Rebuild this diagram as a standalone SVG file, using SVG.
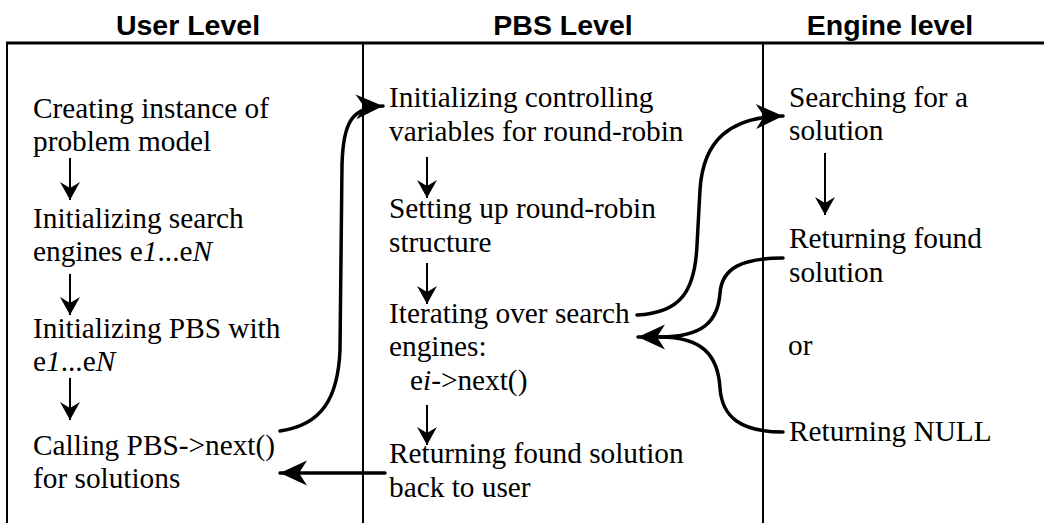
<svg xmlns="http://www.w3.org/2000/svg" width="1044" height="523" viewBox="0 0 1044 523">
  <style>
    .head { font-family: "Liberation Sans", Arial, sans-serif; font-weight: bold; font-size: 28.5px; fill: #000; text-anchor: middle; }
    .lbl { font-family: "Liberation Serif", "DejaVu Serif", serif; font-size: 29.3px; fill: #000; }
    .it { font-style: italic; }
    .rule { stroke: #000; stroke-width: 2; fill: none; }
    .step { stroke: #000; stroke-width: 2; fill: none; marker-end: url(#small); }
    .flow { stroke: #000; stroke-width: 3.5; fill: none; stroke-linecap: round; }
  </style>
  <defs>
    <marker id="small" markerUnits="userSpaceOnUse" viewBox="-20 -11 22 22" refX="0" refY="0" markerWidth="22" markerHeight="22" orient="auto">
      <path d="M0,0 L-18,-10 L-12,0 L-18,10 Z" fill="#000"/>
    </marker>
    <marker id="big" markerUnits="userSpaceOnUse" viewBox="-29 -14 31 28" refX="0" refY="0" markerWidth="31" markerHeight="28" orient="auto">
      <path d="M0,0 L-27,-12.5 L-19,0 L-27,12.5 Z" fill="#000"/>
    </marker>
  </defs>

  <rect width="1044" height="523" fill="#fff"/>

  <!-- column headings -->
  <g id="headings">
    <text class="head" x="188" y="35">User Level</text>
    <text class="head" x="563" y="35">PBS Level</text>
    <text class="head" x="890" y="35">Engine level</text>
  </g>

  <!-- lane frame -->
  <g id="lanes">
    <line x1="6" y1="43" x2="1044" y2="43" stroke="#000" stroke-width="3"/>
    <line class="rule" x1="7" y1="42" x2="7" y2="523"/>
    <line class="rule" x1="363" y1="43" x2="363" y2="523"/>
    <line class="rule" x1="763" y1="43" x2="763" y2="523"/>
  </g>

  <g font-family="Liberation Serif, DejaVu Serif, serif">
  <!-- user level -->
  <g id="create-instance">
    <text class="lbl" x="33" y="118">Creating instance of</text>
    <text class="lbl" x="33" y="151">problem model</text>
  </g>
  <g id="init-engines">
    <text class="lbl" x="33" y="228">Initializing search</text>
    <text class="lbl" x="33" y="261">engines e<tspan class="it">1</tspan>...e<tspan class="it">N</tspan></text>
  </g>
  <g id="init-pbs">
    <text class="lbl" x="33" y="338">Initializing PBS with</text>
    <text class="lbl" x="33" y="371">e<tspan class="it">1</tspan>...e<tspan class="it">N</tspan></text>
  </g>
  <g id="call-next">
    <text class="lbl" x="33" y="455">Calling PBS-&gt;next()</text>
    <text class="lbl" x="33" y="488">for solutions</text>
  </g>

  <!-- PBS level -->
  <g id="init-vars">
    <text class="lbl" x="389" y="107">Initializing controlling</text>
    <text class="lbl" x="389" y="141">variables for round-robin</text>
  </g>
  <g id="setup-rr">
    <text class="lbl" x="389" y="218">Setting up round-robin</text>
    <text class="lbl" x="389" y="252">structure</text>
  </g>
  <g id="iterate">
    <text class="lbl" x="389" y="323">Iterating over search</text>
    <text class="lbl" x="389" y="356">engines:</text>
    <text class="lbl" x="410" y="390">e<tspan class="it">i</tspan>-&gt;next()</text>
  </g>
  <g id="return-user">
    <text class="lbl" x="389" y="463">Returning found solution</text>
    <text class="lbl" x="389" y="497">back to user</text>
  </g>

  <!-- engine level -->
  <g id="searching">
    <text class="lbl" x="789" y="107">Searching for a</text>
    <text class="lbl" x="789" y="140">solution</text>
  </g>
  <g id="return-found">
    <text class="lbl" x="789" y="248">Returning found</text>
    <text class="lbl" x="789" y="282">solution</text>
  </g>
  <g id="or">
    <text class="lbl" x="788" y="355">or</text>
  </g>
  <g id="return-null">
    <text class="lbl" x="789" y="441">Returning NULL</text>
  </g>
  </g>

  <!-- connectors -->
  <g id="connectors">
    <!-- steps inside each lane -->
    <line class="step" x1="70" y1="158" x2="70" y2="200"/>
    <line class="step" x1="70" y1="274" x2="70" y2="315"/>
    <line class="step" x1="70" y1="378" x2="70" y2="420"/>
    <line class="step" x1="427" y1="157" x2="427" y2="198"/>
    <line class="step" x1="427" y1="263" x2="427" y2="304"/>
    <line class="step" x1="427" y1="405" x2="427" y2="445"/>
    <line class="step" x1="825" y1="153" x2="825" y2="215"/>

    <!-- calls between lanes -->
    <path class="flow" marker-end="url(#big)" d="M280,431 C322,425 338,398 340,350 L342,165 C343,122 352,107 383,106"/>
    <path class="flow" marker-end="url(#big)" d="M637,315 C680,313 695,292 697,245 L700,190 C703,140 730,117 783,116"/>
    <path class="flow" d="M783,258 C742,258 722,268 720,293 C718,322 702,337 660,337"/>
    <path class="flow" d="M783,432 C742,432 722,418 720,388 C718,355 702,337 660,337"/>
    <path class="flow" marker-end="url(#big)" d="M662,337 L638,337"/>
    <path class="flow" marker-end="url(#big)" d="M385,473 L280,473"/>
  </g>
</svg>
